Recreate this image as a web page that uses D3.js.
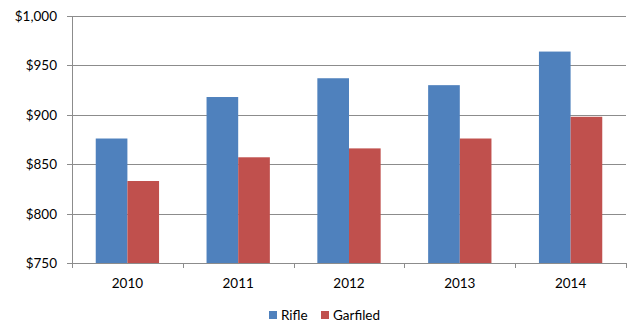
<!DOCTYPE html>
<meta charset="utf-8">
<style>
body { margin: 0; background: #fff; }
text { font-family: Lato, "Open Sans", sans-serif; fill: #000; }
</style>
<svg width="629" height="322"></svg>
<script src="https://cdn.jsdelivr.net/npm/d3@7"></script>
<script>
var years = ["2010", "2011", "2012", "2013", "2014"];
var seriesNames = ["Rifle", "Garfiled"];
var rifle = [876, 918, 937, 930, 964];
var garfiled = [833, 857, 866, 876, 898];
var yTicks = [750, 800, 850, 900, 950, 1000];
var colors = ["#4F81BD", "#C0504D"];

var svg = d3.select("svg");
var plotLeft = 72, plotRight = 626, plotTop = 16, plotBottom = 263;

var x = d3.scaleBand().domain(years).range([plotLeft, plotRight]);
var inner = d3.scaleBand().domain(seriesNames)
    .range([0, x.bandwidth()]).paddingOuter(0.75).paddingInner(0);
var y = d3.scaleLinear().domain([750, 1000]).range([plotBottom, plotTop]);

// gridlines
svg.append("g").selectAll("line").data(yTicks).enter().append("line")
    .attr("x1", plotLeft - 5).attr("x2", plotRight)
    .attr("y1", function(d) { return Math.round(y(d)) + 0.5; })
    .attr("y2", function(d) { return Math.round(y(d)) + 0.5; })
    .attr("stroke", "#8c8c8c").attr("stroke-width", 1);

// y axis line
svg.append("line").attr("x1", plotLeft + 0.5).attr("x2", plotLeft + 0.5)
    .attr("y1", plotTop).attr("y2", plotBottom + 0.5)
    .attr("stroke", "#8c8c8c");

svg.append("g").selectAll("text").data(yTicks).enter().append("text")
    .attr("x", 57).attr("y", function(d) { return y(d) + 5; })
    .attr("text-anchor", "end").style("font-size", "13.5px")
    .text(function(d) { return d3.format("$,")(d); });

// bars
var data = years.map(function(yr, i) {
  return {year: yr, values: [rifle[i], garfiled[i]]};
});
var groups = svg.append("g").selectAll("g").data(data).enter().append("g")
    .attr("transform", function(d) { return "translate(" + x(d.year) + ",0)"; });
groups.selectAll("rect").data(function(d) {
    return d.values.map(function(v, j) { return {name: seriesNames[j], v: v, j: j}; });
  }).enter().append("rect")
    .attr("x", function(d) { return inner(d.name); })
    .attr("width", inner.bandwidth())
    .attr("y", function(d) { return y(d.v); })
    .attr("height", function(d) { return plotBottom - y(d.v); })
    .attr("fill", function(d) { return colors[d.j]; });

// x axis line and ticks
svg.append("line").attr("x1", plotLeft).attr("x2", plotRight + 1)
    .attr("y1", plotBottom + 0.5).attr("y2", plotBottom + 0.5).attr("stroke", "#8c8c8c");
var xTickPos = years.map(function(d) { return x(d); }).concat([plotRight]);
svg.append("g").selectAll("line").data(xTickPos).enter().append("line")
    .attr("x1", function(d) { return Math.round(d) + 0.5; })
    .attr("x2", function(d) { return Math.round(d) + 0.5; })
    .attr("y1", plotBottom).attr("y2", plotBottom + 5).attr("stroke", "#8c8c8c");

svg.append("g").selectAll("text").data(years).enter().append("text")
    .attr("x", function(d) { return x(d) + x.bandwidth() / 2; })
    .attr("y", 288).attr("text-anchor", "middle").style("font-size", "13.5px")
    .text(function(d) { return d; });

// legend
var legendX = [269, 321];
var lg = svg.append("g").selectAll("g").data(seriesNames).enter().append("g")
    .attr("transform", function(d, i) { return "translate(" + legendX[i] + ",311)"; });
lg.append("rect").attr("width", 8).attr("height", 8)
    .attr("fill", function(d, i) { return colors[i]; });
lg.append("text").attr("x", 12).attr("y", 9).style("font-size", "13.5px")
    .text(function(d) { return d; });
</script>
